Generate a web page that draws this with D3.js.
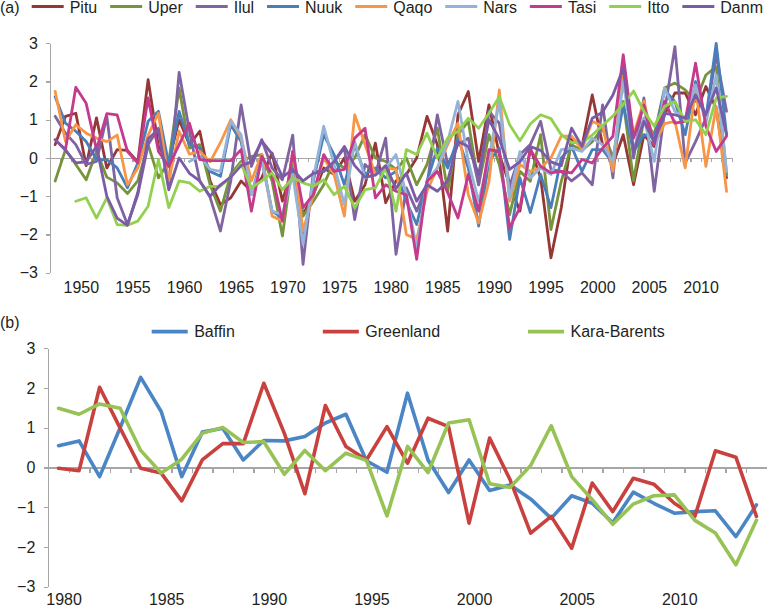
<!DOCTYPE html>
<meta charset="utf-8">
<style>
    body { margin: 0; background: #fff; }
    svg { display: block; font-family: "Liberation Sans", Arial, sans-serif; }
    .axis path, .axis line { stroke: #a6a6a6; stroke-width: 1.3; shape-rendering: crispEdges; }
    .axis text { font-family: "Liberation Sans", Arial, sans-serif; font-size: 16px; fill: #231f20; }
    .series { fill: none; stroke-linejoin: round; stroke-linecap: round; }
    .label { font-size: 16px; fill: #231f20; }
</style>
<svg width="767" height="607"></svg>
<script src="https://d3js.org/d3.v7.min.js"></script>
<script>

    // panel (a): station anomalies, 1948-2013
    var yearsA = d3.range(1948, 2014);
    var namesA = ["Pitu", "Uper", "Ilul", "Nuuk", "Qaqo", "Nars", "Tasi", "Itto", "Danm"];
    var colorsA = ["#953735", "#77933c", "#8064a2", "#4a7ebb", "#f79646", "#95b3d7", "#c43b8e", "#92d050", "#7b5ba6"];

    var pitu = [0.35, 1.09, 1.17, -0.2, 1.05, -0.26, 0.22, 0.2, -0.1, 2.05, 0.3, -0.1, 1.0, 0.35, 0.7, -0.6, -1.22,
        -1.04, -0.6, -0.87, -0.52, 0.13, -1.13, -0.22, -1.48, -0.96, -0.26, -0.43, 0.0, -1.13, -0.7, 0.39, -1.17, -0.6,
        -0.43, 0.0, 1.09, 0.35, -1.91, 1.13, 1.74, -0.09, 1.39, 0.09, -0.7, -1.39, 0.26, -0.52, -2.61, -1.3,
        0.52, 0.3, 1.65, 0.35, -0.17, 0.61, -0.7, 0.6, 0.3, 1.13, 1.7, 1.7, 1.13, 1.87, 1.3, -0.52];
    var uper = [-0.6, 0.22, -0.17, -0.57, 0.17, -0.5, -0.65, -0.93, -0.6, 0.35, -0.52, -0.1, 1.83, 0.26, 0.35, -0.7, -1.39,
        -0.43, -0.09, 0.04, 0.09, -0.6, -2.04, -0.09, -1.52, -1.13, -0.7, -0.09, -0.26, 0.0, 0.61, 0.0, -0.09, -0.3,
        0.0, -0.7, -0.17, 0.78, -0.87, 0.61, 0.96, -0.7, 0.61, -0.17, -1.48, -0.35, -0.61, 0.61, -1.87, -0.61,
        0.35, 0.2, 0.43, 0.78, 0.0, 1.48, -0.6, 1.04, 0.6, 1.83, 1.96, 1.78, 1.48, 2.17, 2.39, -0.43];
    var ilul = [1.09, 0.65, 0.35, -0.17, -0.09, 1.09, -1.04, -1.74, -0.96, 0.35, 0.78, -0.78, 2.24, 0.7, -0.6, -1.03, -1.91,
        -0.6, 1.39, -0.22, 0.48, -0.26, -0.57, 0.6, -2.78, -0.35, -0.35, -0.09, 0.26, -1.61, -0.17, -0.43, 0.52, -2.52,
        -0.78, -1.39, -0.7, 1.13, -0.17, 0.35, 0.52, -0.7, 1.22, 0.91, -0.74, 0.09, 0.35, 0.96, -0.3, -0.35,
        -0.6, -0.39, -0.7, 1.39, -0.52, 2.43, 0.0, 1.57, -0.87, 1.22, 2.91, -0.13, 0.43, 1.04, 2.7, 1.22];
    var nuuk = [1.6, 0.91, 0.7, 0.43, -0.04, -0.04, -0.26, -0.78, -0.13, 0.96, 1.22, -0.17, 1.22, 0.35, 0.26, -0.35, -0.48,
        0.87, 0.43, -0.96, 0.0, -1.39, -1.57, -0.26, -2.17, -0.6, 0.61, 0.09, -0.7, 0.35, -0.43, -0.26, -0.52, -0.35,
        -1.13, -1.74, -0.61, 0.26, -0.26, 0.52, -0.26, -1.78, -0.09, 0.26, -2.13, -0.52, -1.43, -0.43, -1.3, 0.0,
        0.3, -0.35, 0.22, 0.22, -0.13, 1.39, 0.17, 0.61, 0.52, 1.78, 1.48, 0.61, 2.0, 1.04, 3.0, 0.61];
    var qaqo = [1.74, 0.43, 0.87, 0.65, 0.52, 0.43, 0.6, -0.7, -0.26, 0.6, 1.17, -0.6, 0.7, 0.1, 0.17, -0.1, 0.4,
        1.0, 0.52, -0.6, 0.1, -1.52, -1.65, 0.17, -1.9, -0.95, 0.0, -0.43, -1.52, 1.13, 0.35, -0.43, -0.26, -0.3,
        -2.0, -2.13, -0.87, -0.26, 0.35, 0.91, -0.96, -1.7, -0.61, 1.78, -1.13, -0.17, -0.35, -0.26, 0.0, 0.57,
        0.57, 0.22, 0.96, 0.83, -0.35, 2.26, 0.61, 1.48, 0.35, 0.9, 0.96, -0.26, 1.83, -0.22, 1.35, -0.87];
    var nars = [null, null, null, null, null, null, null, null, null, null, null, null, null, -0.09, 0.05, -0.3, -0.35,
        0.96, 0.61, -0.96, -0.09, -1.39, -1.48, -0.43, -2.26, -0.52, 0.83, -0.17, -1.22, 0.43, -0.52, -0.43, -0.26, 0.09,
        -0.96, -2.35, -0.61, -0.26, 0.43, 1.48, -0.09, -1.13, 0.0, 1.48, -1.04, 0.17, -0.52, -0.26, -0.43, 0.22,
        0.26, 0.17, 0.52, 0.35, -0.09, 2.0, 0.22, 1.04, -0.09, 1.83, 1.22, 1.04, 1.91, 0.91, 2.17, -0.35];
    var tasi = [0.48, 0.22, 1.85, 1.43, 0.22, 1.16, 1.13, 0.17, -0.13, 1.57, 0.17, -0.22, 0.35, 0.91, -0.04, -0.07, -0.07,
        -0.07, 0.22, -1.39, 0.04, -0.43, -1.65, 0.17, -1.3, -0.96, 0.09, -0.35, -0.3, 0.52, 0.78, -1.04, -0.7, -0.87,
        -0.96, -2.65, -0.61, -0.35, -0.9, -1.57, -0.43, -1.39, 0.22, 0.17, -1.83, -1.3, 0.22, -0.22, -0.39, -0.35,
        -0.39, -0.04, -0.13, 0.26, 0.57, 2.7, 0.52, 1.39, 0.35, 1.48, 0.91, 0.96, 2.48, 0.83, 0.17, 0.57];
    var itto = [null, null, -1.13, -1.04, -1.57, -1.04, -1.74, -1.76, -1.65, -1.26, -0.04, -1.3, -0.6, -0.65, -0.87, -0.74, -0.74,
        -0.5, -0.15, -0.78, -0.6, -0.39, -0.83, -0.52, -0.65, -0.74, -0.57, -0.96, -0.74, -1.3, -0.83, -0.78, -0.26, -1.39,
        0.22, 0.09, 0.65, 0.0, 0.52, 0.7, 1.04, 0.78, 1.17, 1.6, 0.87, 0.45, 0.89, 1.13, 1.03, 0.61,
        0.4, 0.4, 0.6, 0.85, 1.1, 1.4, 1.75, 1.22, 0.83, 1.35, 1.48, 0.96, 1.0, 0.61, 1.57, 1.61];
    var danm = [0.48, 0.2, -0.13, -0.1, 0.3, -1.0, -1.57, -1.76, -0.9, 0.5, 0.75, -0.83, 0.0, -0.4, -0.6, -1.0, -0.7,
        -0.5, -0.2, -0.1, 0.45, 0.1, -0.5, -0.3, -0.6, -0.4, -0.35, -0.1, 0.3, -0.2, -0.5, -0.45, -0.2, -0.8,
        -0.4, -1.13, -0.7, -0.87, -0.6, 0.43, 0.3, -0.43, 1.0, 0.5, -0.3, -0.1, 0.3, 0.2, -0.1, -0.2,
        0.78, 0.3, 1.04, 1.2, 1.65, 2.35, 0.17, 0.96, 0.43, 1.17, 1.13, 1.04, 1.65, 1.13, 1.83, 0.61];
    var seriesA = [pitu, uper, ilul, nuuk, qaqo, nars, tasi, itto, danm];

    // panel (b): regional indices, 1980-2014
    var yearsB = d3.range(1980, 2015);
    var namesB = ["Baffin", "Greenland", "Kara-Barents"];
    var colorsB = ["#4a86c5", "#c9413e", "#97c256"];
    var baffin = [0.55, 0.67, -0.23, 1.0, 2.27, 1.41, -0.23, 0.89, 0.99, 0.19, 0.68, 0.67, 0.78, 1.12, 1.34, 0.17, -0.12,
        1.87, 0.19, -0.63, 0.19, -0.58, -0.44, -0.79, -1.28, -0.71, -0.9, -1.39, -0.62, -0.9, -1.15, -1.11, -1.09, -1.74, -0.94];
    var greenland = [-0.02, -0.08, 2.02, 0.99, -0.02, -0.14, -0.84, 0.19, 0.6, 0.6, 2.12, 0.86, -0.66, 1.56, 0.53, 0.19, 1.03,
        0.11, 1.24, 1.03, -1.4, 0.74, -0.31, -1.65, -1.23, -2.03, -0.39, -1.11, -0.27, -0.42, -0.9, -1.23, 0.42, 0.26, -1.23];
    var karaBarents = [1.49, 1.34, 1.6, 1.49, 0.43, -0.14, 0.21, 0.86, 1.01, 0.63, 0.65, -0.17, 0.43, -0.08, 0.36, 0.18, -1.22,
        0.53, -0.13, 1.12, 1.2, -0.41, -0.5, 0.05, 1.05, -0.23, -0.81, -1.43, -0.92, -0.71, -0.69, -1.33, -1.65, -2.45, -1.33];
    var seriesB = [baffin, greenland, karaBarents];

    var svg = d3.select("svg");

    function panel(opt) {
        var x = d3.scaleLinear().domain([opt.years[0], opt.years[opt.years.length - 1] + 1]).range([opt.left, opt.right]),
            y = d3.scaleLinear().domain([-3, 3]).range([opt.bottom, opt.top]),
            half = (x(opt.years[0] + 1) - x(opt.years[0])) / 2;

        var g = svg.append("g");

        // zero line with a tick at every year boundary
        g.append("g")
            .attr("class", "axis")
            .attr("transform", "translate(0," + y(0) + ")")
            .call(d3.axisBottom(x).tickValues(d3.range(opt.years[0], opt.years[opt.years.length - 1] + 2))
                .tickFormat("").tickSize(opt.tick).tickSizeOuter(0));

        // year labels along the bottom
        var lab = g.append("g")
            .attr("class", "axis")
            .attr("transform", "translate(" + (half + 5) + "," + opt.labelY + ")")
            .call(d3.axisBottom(x).tickValues(opt.labels).tickFormat(d3.format("d")).tickSize(0).tickPadding(0));
        lab.select(".domain").remove();

        g.append("g")
            .attr("class", "axis")
            .attr("transform", "translate(" + opt.left + ",0)")
            .call(d3.axisLeft(y).tickValues(d3.range(-3, 4)).tickFormat(d3.format("d"))
                .tickSize(4).tickPadding(opt.pad).tickSizeOuter(0));

        var line = d3.line()
            .defined(function(d) { return d != null; })
            .x(function(d, i) { return x(opt.years[i] + 0.5); })
            .y(function(d) { return y(d); });

        g.selectAll(".series")
            .data(opt.series)
            .enter().append("path")
            .attr("class", "series")
            .attr("stroke", function(d, i) { return opt.colors[i]; })
            .attr("stroke-width", opt.width)
            .attr("d", line);
    }

    panel({years: yearsA, series: seriesA, colors: colorsA, labels: d3.range(1950, 2011, 5),
        left: 50, right: 731.7, top: 43.3, bottom: 272.7, tick: 4, pad: 8, labelY: 282, width: 2.8});
    panel({years: yearsB, series: seriesB, colors: colorsB, labels: d3.range(1980, 2011, 5),
        left: 48.3, right: 766.7, top: 348.3, bottom: 586.7, tick: 5, pad: 9, labelY: 593.5, width: 3.6});

    svg.append("text").attr("class", "label").attr("x", 0).attr("y", 12.5).text("(a)");
    svg.append("text").attr("class", "label").attr("x", 0).attr("y", 328).text("(b)");

    // legend (a): entries spread evenly between x = 31.7 and 763
    var legA = svg.append("g");
    var itemsA = legA.selectAll("g").data(namesA).enter().append("g");
    itemsA.append("line").attr("x1", 0).attr("x2", 32).attr("y1", 6.5).attr("y2", 6.5)
        .attr("stroke", function(d, i) { return colorsA[i]; }).attr("stroke-width", 3.2);
    itemsA.append("text").attr("class", "label").attr("x", 38).attr("y", 12.5).text(function(d) { return d; });
    var widthsA = itemsA.nodes().map(function(n) { return 38 + n.querySelector("text").getComputedTextLength(); });
    var gapA = (763 - 31.7 - d3.sum(widthsA)) / (widthsA.length - 1);
    var posA = 31.7;
    itemsA.each(function(d, i) {
        d3.select(this).attr("transform", "translate(" + posA + ",0)");
        posA += widthsA[i] + gapA;
    });

    // legend (b)
    var legB = svg.append("g");
    var itemsB = legB.selectAll("g").data(namesB).enter().append("g");
    itemsB.append("line").attr("x1", 0).attr("x2", 36).attr("y1", 331.7).attr("y2", 331.7)
        .attr("stroke", function(d, i) { return colorsB[i]; }).attr("stroke-width", 3.8);
    itemsB.append("text").attr("class", "label").attr("x", 42.5).attr("y", 337.3).text(function(d) { return d; });
    var posB = 151.7;
    itemsB.each(function(d, i) {
        d3.select(this).attr("transform", "translate(" + posB + ",0)");
        posB += 42.5 + this.querySelector("text").getComputedTextLength() + 88;
    });

</script>
